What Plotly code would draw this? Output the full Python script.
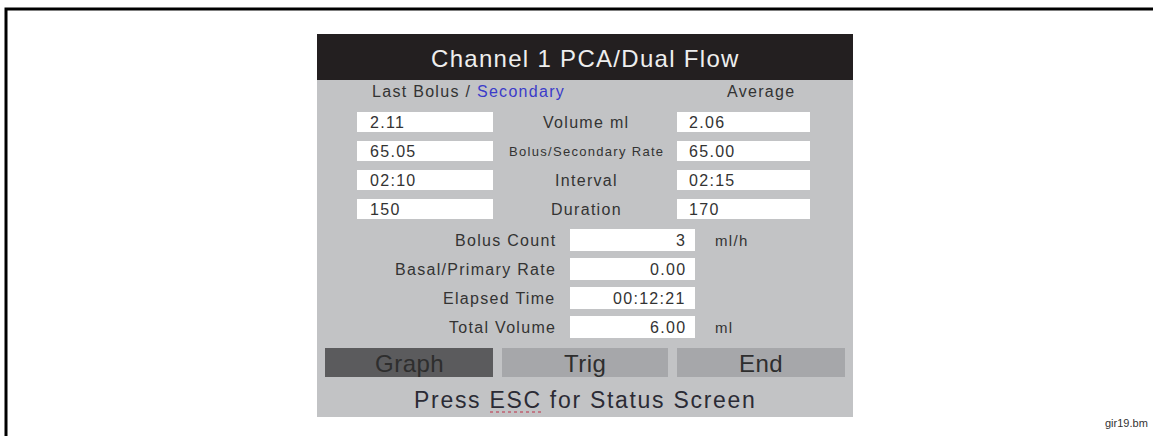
import plotly.graph_objects as go

# ---- data ----
title_text = "Channel 1 PCA/Dual Flow"
header_left = "Last Bolus / "
header_left_blue = "Secondary"
header_right = "Average"

row_labels = ["Volume ml", "Bolus/Secondary Rate", "Interval", "Duration"]
last_bolus = ["2.11", "65.05", "02:10", "150"]
average = ["2.06", "65.00", "02:15", "170"]

summary_labels = ["Bolus Count", "Basal/Primary Rate", "Elapsed Time", "Total Volume"]
summary_values = ["3", "0.00", "00:12:21", "6.00"]
summary_units = ["ml/h", "", "", "ml"]

buttons = ["Graph", "Trig", "End"]
footer = "Press ESC for Status Screen"
file_tag = "gir19.bm"

# ---- layout constants ----
W, H = 1153, 436
FONT = "Liberation Sans, Arial, sans-serif"
PANEL_X0, PANEL_Y0, PANEL_X1, PANEL_Y1 = 317, 34, 853, 417
TITLE_Y1 = 80
PANEL_GRAY = "#c2c3c5"
TEXT = "#333333"

shapes = []
annotations = []

def rect(x0, y0, x1, y1, fill):
    shapes.append(dict(type="rect", xref="x", yref="y", x0=x0, y0=y0, x1=x1, y1=y1,
                       fillcolor=fill, line=dict(color=fill, width=0), layer="below"))

def text(x, y, s, size, color=TEXT, xanchor="center", ls=1.3):
    annotations.append(dict(x=x, y=y, xref="x", yref="y",
                            text=f"<span style='letter-spacing:{ls}px'>{s}</span>",
                            showarrow=False, xanchor=xanchor, yanchor="middle",
                            font=dict(family=FONT, size=size, color=color)))

# outer frame (left and top)
shapes.append(dict(type="path", xref="x", yref="y",
                   path=f"M 6 {H + 5} L 6 9 L {W + 5} 9", line=dict(color="#000000", width=3)))

# panel
rect(PANEL_X0, PANEL_Y0, PANEL_X1, PANEL_Y1, PANEL_GRAY)
rect(PANEL_X0, PANEL_Y0, PANEL_X1, TITLE_Y1, "#231f20")
text((PANEL_X0 + PANEL_X1) / 2, (PANEL_Y0 + TITLE_Y1) / 2 + 1, title_text, 24, "#eeeeee")

# header
text(370, 91, header_left + f"<span style='color:#3b3bc9'>{header_left_blue}</span>", 16, xanchor="left")
text(797, 91, header_right, 16, xanchor="right")

# detail rows
row_y = [122, 151, 180, 209]
for i, y in enumerate(row_y):
    rect(357, y - 10, 493, y + 10, "#ffffff")
    rect(677, y - 10, 810, y + 10, "#ffffff")
    text(368, y, last_bolus[i], 16, xanchor="left")
    text(687, y, average[i], 16, xanchor="left")
    size = 13 if len(row_labels[i]) > 12 else 16
    text(586, y, row_labels[i], size)

# summary rows
sum_y = [240, 269, 298, 327]
for i, y in enumerate(sum_y):
    rect(570, y - 11, 695, y + 11, "#ffffff")
    text(558, y, summary_labels[i], 16, xanchor="right")
    text(688, y, summary_values[i], 16, xanchor="right")
    if summary_units[i]:
        text(713, y, summary_units[i], 15, xanchor="left")

# buttons
btn_x = [(325, 493), (502, 668), (677, 845)]
btn_fill = ["#5b5b5d", "#a6a7aa", "#a6a7aa"]
for (x0, x1), f, b in zip(btn_x, btn_fill, buttons):
    rect(x0, 348, x1, 377, f)
    text((x0 + x1) / 2, 363, b, 24, "#2e2e2e", ls=0.5)

# footer
text(585, 400, footer, 23, "#2b2b35", ls=1.7)
shapes.append(dict(type="line", xref="x", yref="y", x0=490, x1=541, y0=412, y1=412,
                   line=dict(color="#c06070", width=1.5, dash="dot")))

# file tag
text(1150, 423, file_tag, 11, "#333333", xanchor="right", ls=0)

fig = go.Figure()
fig.update_layout(
    width=W, height=H,
    margin=dict(l=0, r=0, t=0, b=0),
    paper_bgcolor="#ffffff", plot_bgcolor="#ffffff",
    xaxis=dict(range=[0, W], visible=False, fixedrange=True),
    yaxis=dict(range=[H, 0], visible=False, fixedrange=True),
    shapes=shapes, annotations=annotations, showlegend=False,
)
fig.write_html("out.html", config={"displayModeBar": False},
               post_script="document.body.style.margin='0';document.body.style.overflow='hidden';")
